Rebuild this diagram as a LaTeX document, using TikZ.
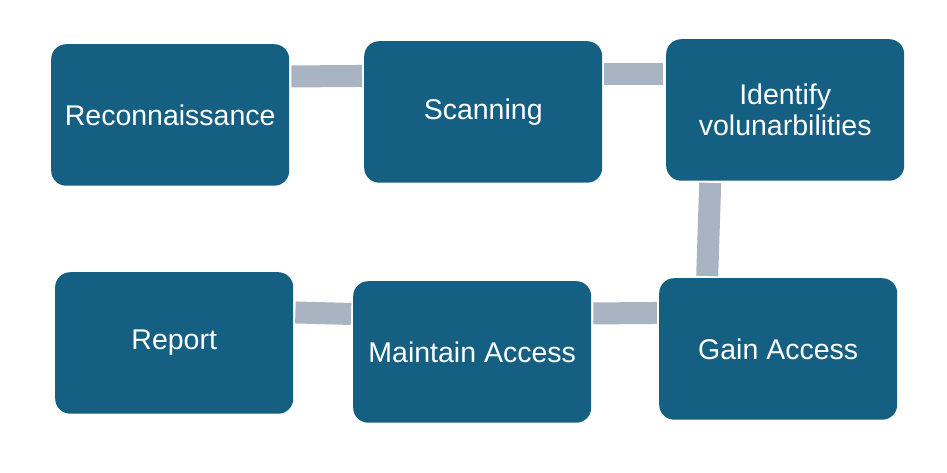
\documentclass[tikz,border=0pt]{standalone}
\usepackage{fontspec}
\setmainfont{Liberation Sans}
\definecolor{boxblue}{HTML}{156082}
\definecolor{barcol}{HTML}{A9B4C2}
\begin{document}
\begin{tikzpicture}[x=1pt,y=-1pt,
  stepbox/.style={draw=none,fill=boxblue,rounded corners=15pt,minimum width=238pt,minimum height=141.5pt,
    inner sep=0pt,anchor=north west,text=white,align=center,font=\fontsize{28.5}{31}\selectfont},
  bar/.style={draw=barcol,line width=22pt,line cap=butt}]
\useasboundingbox (0,0) rectangle (947,472);
\node[stepbox] (r) at (51,44) {Reconnaissance};
\node[stepbox] (s) at (364,41) {Scanning};
\node[stepbox] (i) at (666,39) {Identify\\volunarbilities};
\node[stepbox] (g) at (659,278) {Gain Access};
\node[stepbox] (m) at (353,281) {Maintain Access};
\node[stepbox] (p) at (55,272) {Report};
\draw[bar] ([xshift=2pt,yshift=38.5pt]r.east) -- ([xshift=-2pt,yshift=36pt]s.west);
\draw[bar] ([xshift=2pt,yshift=38pt]s.east) -- ([xshift=-3pt,yshift=36pt]i.west);
\draw[bar] ([xshift=-75pt,yshift=-2pt]i.south) -- ([xshift=-71pt,yshift=2pt]g.north);
\draw[bar] ([xshift=2pt,yshift=38.5pt]m.east) -- ([xshift=-2pt,yshift=36pt]g.west);
\draw[bar] ([xshift=2pt,yshift=30.5pt]p.east) -- ([xshift=-2pt,yshift=38pt]m.west);
\end{tikzpicture}
\end{document}
